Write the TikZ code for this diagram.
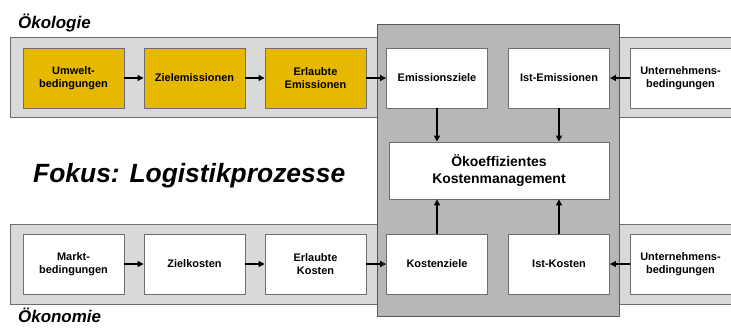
\documentclass[tikz,border=0pt]{standalone}
\usepackage{fontspec}
\setmainfont{Liberation Sans}
\usetikzlibrary{arrows.meta}
\definecolor{eyellow}{RGB}{230,184,0}
\definecolor{bandgray}{RGB}{217,217,217}
\definecolor{coregray}{RGB}{183,183,183}
\definecolor{edgegray}{RGB}{110,110,110}
\tikzset{
  band/.style={draw=edgegray,fill=bandgray,line width=0.9bp},
  core/.style={draw=edgegray!80!black,fill=coregray,line width=0.9bp},
  procbox/.style={draw=edgegray,line width=0.9bp,minimum width=101bp,minimum height=60bp,inner sep=0pt,align=center,
    font=\fontsize{11}{13.5}\selectfont\bfseries},
  ybox/.style={procbox,fill=eyellow},
  wbox/.style={procbox,fill=white},
  conn/.style={-{Triangle[length=6bp,width=6bp]},line width=1.3bp,black},
  title/.style={anchor=base west,inner sep=0pt,font=\fontsize{17}{17}\selectfont\bfseries\itshape}
}
\begin{document}
\begin{tikzpicture}[x=1bp,y=-1bp]
\useasboundingbox (0,0) rectangle (731,327);
% bands
\draw[band] (10.5,37) rectangle (731.5,117);
\draw[band] (10.5,224) rectangle (731.5,304);
% core
\draw[core] (377,24) rectangle (619,316);
% titles
\node[title] (oekol) at (18,28) {Ökologie};
\node[title] (oekon) at (18,322) {Ökonomie};
\node[anchor=base west,inner sep=0pt,font=\fontsize{26.5}{26.5}\selectfont\bfseries\itshape] (fokus) at (33,182) {Fokus: Logistikprozesse};
% top row
\node[ybox] (umw) at (73.5,78) {Umwelt-\\bedingungen};
\node[ybox] (ziele) at (194.5,78) {Zielemissionen};
\node[ybox] (erle) at (315.5,78) {Erlaubte\\Emissionen};
\node[wbox] (emz) at (437,78) {Emissionsziele};
\node[wbox] (iste) at (559,78) {Ist-Emissionen};
\node[wbox] (ube) at (680.5,78) {Unternehmens-\\bedingungen};
% bottom row
\node[wbox] (markt) at (73.5,264) {Markt-\\bedingungen};
\node[wbox] (zk) at (194.5,264) {Zielkosten};
\node[wbox] (erk) at (315.5,264) {Erlaubte\\Kosten};
\node[wbox] (kz) at (437,264) {Kostenziele};
\node[wbox] (istk) at (559,264) {Ist-Kosten};
\node[wbox] (ubk) at (680.5,264) {Unternehmens-\\bedingungen};
% centre
\node[wbox,minimum width=220bp,minimum height=57bp,font=\fontsize{14}{18}\selectfont\bfseries] (oeko) at (499,170.5) {Ökoeffizientes\\Kostenmanagement};
% connectors
\draw[conn] (umw) -- (ziele);
\draw[conn] (ziele) -- (erle);
\draw[conn] (erle) -- (emz);
\draw[conn] (ube) -- (iste);
\draw[conn] (markt) -- (zk);
\draw[conn] (zk) -- (erk);
\draw[conn] (erk) -- (kz);
\draw[conn] (ubk) -- (istk);
\draw[conn] (emz.south) -- (emz.south |- oeko.north);
\draw[conn] (iste.south) -- (iste.south |- oeko.north);
\draw[conn] (kz.north) -- (kz.north |- oeko.south);
\draw[conn] (istk.north) -- (istk.north |- oeko.south);
\end{tikzpicture}
\end{document}
